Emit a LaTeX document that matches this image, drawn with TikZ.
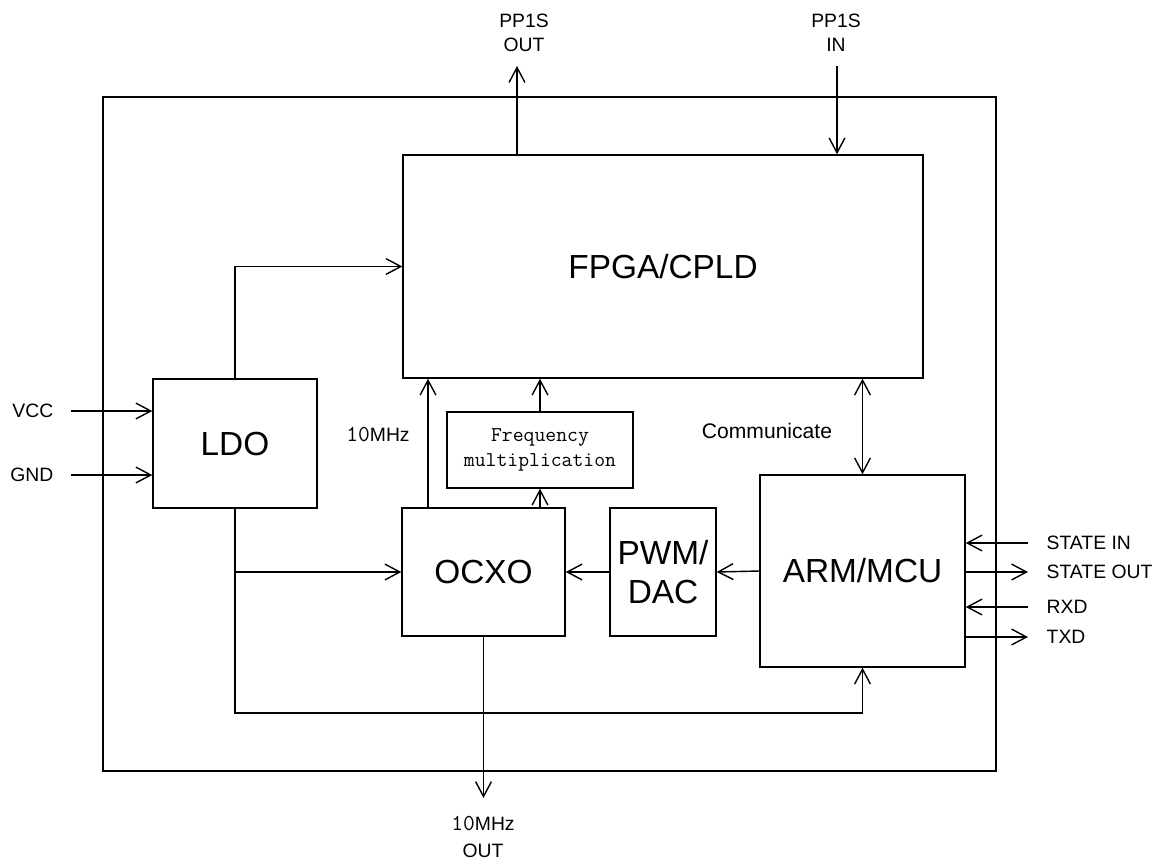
\documentclass[tikz,border=0pt]{standalone}
\usepackage{fontspec}
\setmainfont{Liberation Sans}
\usepackage{xcolor}
\usetikzlibrary{positioning,arrows.meta}
\definecolor{ink}{HTML}{000000}

\begin{document}
\begin{tikzpicture}[line width=0.8pt,every node/.style={text=ink},
  blk/.style={draw=ink,line width=0.8pt,inner sep=0pt,align=center,font=\fontsize{19}{22}\selectfont},
  fm/.style={draw=ink,line width=0.8pt,inner sep=0pt,align=center,font=\ttfamily\fontsize{12}{14.2}\selectfont},
  lbl/.style={inner sep=0pt,align=center,font=\fontsize{11}{13.6}\selectfont},
  e/.style={-{Straight Barb[length=8.5pt,width=9pt]},line width=0.8pt,draw=ink},
  ee/.style={{Straight Barb[length=8.5pt,width=9pt]}-{Straight Barb[length=8.5pt,width=9pt]},line width=0.8pt,draw=ink}]
  \useasboundingbox (0,0) rectangle (23.3,-17.26);
  \draw[draw=ink] (2.06,-1.94) rectangle (19.92,-15.42);
  \node[blk,minimum width=10.4cm,minimum height=4.46cm] (fpga) at (13.26,-5.33) {FPGA/CPLD};
  \node[blk,minimum width=3.28cm,minimum height=2.58cm] (ldo) at (4.70,-8.87) {LDO};
  \node[fm,minimum width=3.72cm,minimum height=1.52cm] (freq) at (10.80,-9.00) {Frequency\\multiplication};
  \node[blk,minimum width=3.26cm,minimum height=2.56cm] (ocxo) at (9.67,-11.44) {OCXO};
  \node[blk,minimum width=2.12cm,minimum height=2.56cm] (pwm) at (13.26,-11.44) {PWM/\\DAC};
  \node[blk,minimum width=4.10cm,minimum height=3.84cm] (arm) at (17.25,-11.42) {ARM/MCU};
  \coordinate (ppout) at (10.34,-1.32);
  \coordinate (ppin) at (16.74,-1.32);
  \coordinate (vccin) at (1.42,-8.22);
  \coordinate (gndin) at (1.42,-9.50);
  \coordinate (rail) at (4.70,-14.26);
  \coordinate (osc) at ([xshift=-1.11cm]ocxo.north);
  \coordinate (clkout) at (9.67,-15.96);
  \coordinate (stin) at (20.56,-10.86);
  \coordinate (stout) at (20.56,-11.44);
  \coordinate (rxd) at (20.56,-12.14);
  \coordinate (txd) at (20.56,-12.74);
  \node[lbl] (ppoutlbl) at (10.48,-0.66) {PP1S\\OUT};
  \node[lbl] (ppinlbl) at (16.72,-0.66) {PP1S\\IN};
  \node[lbl,left=0.34cm of vccin] (vcc) {VCC};
  \node[lbl,left=0.34cm of gndin] (gnd) {GND};
  \node[lbl] (tenmhz) at (7.56,-8.70) {{\ttfamily\fontsize{13}{13}\selectfont 10}MHz};
  \node[lbl,font=\fontsize{12}{14}\selectfont] (comm) at (15.34,-8.62) {Communicate};
  \node[lbl] (clklbl) at (9.66,-16.74) {{\ttfamily\fontsize{13}{13}\selectfont 10}MHz\\[2pt]OUT};
  \node[lbl,right=0.36cm of stin] (stinlbl) {STATE IN};
  \node[lbl,right=0.36cm of stout] (stoutlbl) {STATE OUT};
  \node[lbl,right=0.36cm of rxd] (rxdlbl) {RXD};
  \node[lbl,right=0.36cm of txd] (txdlbl) {TXD};
  \draw[e] (fpga.north -| ppout) -- (ppout);
  \draw[e] (ppin) -- (ppin |- fpga.north);
  \draw[e] (vccin) -- (vccin -| ldo.west);
  \draw[e] (gndin) -- (gndin -| ldo.west);
  \draw[e] (ldo.north) |- (fpga.west);
  \draw[e] (ldo.south) -- (rail) -| (arm.south);
  \draw[e] (ldo.south |- ocxo.west) -- (ocxo.west);
  \draw[e] (osc) -- (osc |- fpga.south);
  \draw[e] (ocxo.north -| freq.south) -- (freq.south);
  \draw[e] (freq.north) -- (freq.north |- fpga.south);
  \draw[ee] (arm.north) -- (arm.north |- fpga.south);
  \draw[e] (pwm.west) -- (ocxo.east);
  \draw[e] (arm.west) -- (pwm.east);
  \draw[e] (ocxo.south) -- (clkout);
  \draw[e] (stin) -- (stin -| arm.east);
  \draw[e] (stout -| arm.east) -- (stout);
  \draw[e] (rxd) -- (rxd -| arm.east);
  \draw[e] (txd -| arm.east) -- (txd);
\end{tikzpicture}
\end{document}
